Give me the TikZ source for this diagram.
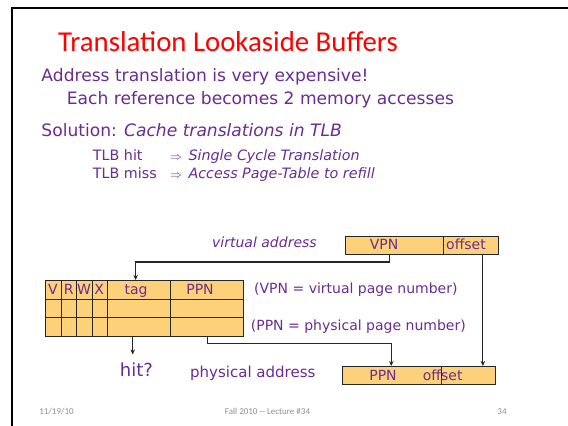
\documentclass[tikz,border=0pt]{standalone}
\usepackage{fontspec}
\setmainfont{DejaVu Sans}
\newfontfamily\titlefont{Carlito}
\usetikzlibrary{arrows.meta}
\definecolor{slidepurple}{HTML}{6A2C91}
\definecolor{cellfill}{HTML}{FDD17A}
\definecolor{footgrey}{HTML}{8F8F8F}
\definecolor{titlered}{HTML}{FF0000}
\newcommand{\fsz}[1]{\fontsize{#1}{#1}\selectfont}
\begin{document}
\begin{tikzpicture}[x=1pt,y=-1pt,
  txt/.style={inner sep=0pt, anchor=base west, text=slidepurple},
  lbl/.style={inner sep=0pt, anchor=base, text=slidepurple, font=\fsz{14}},
  cell/.style={draw=black!85, line width=1.1pt, fill=cellfill, inner sep=0pt,
               anchor=north west},
  arr/.style={draw=black!85, line width=1.1pt, -{Stealth[length=5pt,width=4.5pt]}},
  foot/.style={inner sep=0pt, anchor=base, text=footgrey, font=\titlefont\fsz{9}},
]
\useasboundingbox (0,0) rectangle (568,426);
\fill[white] (0,0) rectangle (568,426);

% slide frame
\draw[line width=2.6pt] (12,426) -- (12,8) -- (568,8);

% title and bullet text
\node[txt, anchor=base west, text=titlered, font=\titlefont\fsz{28.8}] (title) at (58,51)
  {Translation Lookaside Buffers};
\node[txt, font=\fsz{17.1}] (l1) at (41.3,81) {Address translation is very expensive!};
\node[txt, font=\fsz{17.1}] (l2) at (66.7,104) {Each reference becomes 2 memory accesses};
\node[txt, font=\fsz{17.1}] (l3) at (41.3,136.7) {Solution: \textit{Cache translations in TLB}};
\node[txt, font=\fsz{14.3}] (hitl) at (92.7,160) {TLB hit};
\node[txt, font=\fsz{12}] (hita) at (170,160) {$\Rightarrow$};
\node[txt, font=\fsz{14.3}\itshape] (hitr) at (188.3,160) {Single Cycle Translation};
\node[txt, font=\fsz{14.3}] (missl) at (92.7,178.3) {TLB miss};
\node[txt, font=\fsz{12}] (missa) at (170,178.3) {$\Rightarrow$};
\node[txt, font=\fsz{14.3}\itshape] (missr) at (188.3,178.3) {Access Page-Table to refill};

% TLB array: 6 columns x 3 rows
\foreach \c/\xa/\xb in {v/45/61, r/61/76.3, w/76.3/91.7, x/91.7/106.7,
                        tag/106.7/170, ppn/170/243.3}
  \foreach \r/\ya in {1/280, 2/298.67, 3/317.33}
    \node[cell, minimum width={(\xb-\xa)*1pt}, minimum height=18.67pt]
      (\c\r) at (\xa,\ya) {};
\node[lbl] at (53,294) {V};
\node[lbl] at (68.7,294) {R};
\node[lbl] at (84,294) {W};
\node[lbl] at (99.2,294) {X};
\node[lbl] at (136,294) {tag};
\node[lbl] at (200,294) {PPN};

% virtual address register
\node[txt, font=\fsz{14}\itshape] (va) at (212,247.3) {virtual address};
\node[cell, minimum width=98.3pt, minimum height=17.7pt] (vpn) at (345,236) {};
\node[cell, minimum width=54.4pt, minimum height=17.7pt] (voff) at (443.3,236) {};
\node[lbl] at (384,249.3) {VPN};
\node[lbl] at (466,249.3) {offset};

% legend
\node[txt, font=\fsz{14}] (vpnkey) at (254,293.3) {(VPN = virtual page number)};
\node[txt, font=\fsz{14}] (ppnkey) at (250.7,330.7) {(PPN = physical page number)};

% physical address register
\node[cell, minimum width=98.4pt, minimum height=18pt] (pppn) at (342.3,366) {};
\node[cell, minimum width=54.3pt, minimum height=18pt] (poff) at (440.7,366) {};
\node[lbl] at (383,380.7) {PPN};
\node[txt, font=\fsz{14}] at (422.7,380.7) {offset};
\node[txt, font=\fsz{15}] (pa) at (190,377.7) {physical address};

% hit output
\node[lbl, font=\fsz{18}] (hit) at (136.5,376.7) {hit?};
\coordinate (hitin) at (132.7,354.5);

% connectors
\draw[arr] ([xshift=-5.6pt]vpn.south) |- ([xshift=-3.3pt,yshift=18pt]tag1.north)
  -- ([xshift=-3.3pt]tag1.north);
\draw[arr] ([xshift=11.8pt]voff.south) -- ([xshift=11.8pt]voff.south |- poff.north);
\draw[arr] ([xshift=0.6pt]ppn3.south) -- ++(0,6.7) -| ([xshift=-0.8pt]pppn.north);
\draw[arr] (hitin |- tag3.south) -- (hitin);

% footer
\node[foot] (date) at (56.5,414) {11/19/10};
\node[foot] (course) at (267.5,414) {Fall 2010 -- Lecture \#34};
\node[foot] (page) at (502,414) {34};
\end{tikzpicture}
\end{document}
